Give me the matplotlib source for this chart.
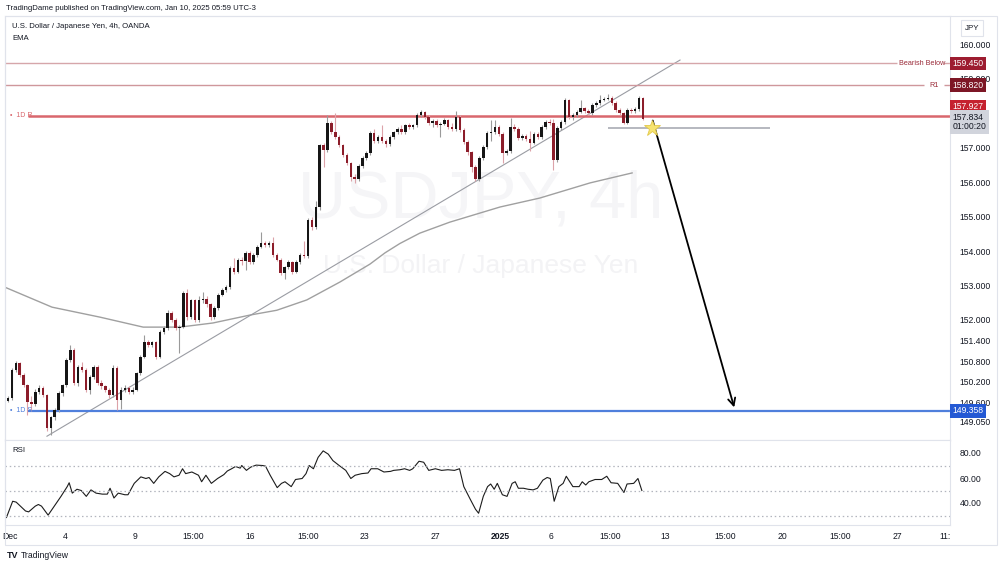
import matplotlib
matplotlib.use("Agg")
from matplotlib import pyplot
from matplotlib.patches import Rectangle
import numpy

pyplot.rcParams['font.family'] = ['Liberation Sans', 'DejaVu Sans']

# USD/JPY 4h candles (open of each bar = previous close)
first_open = 149.65
closes = [149.72, 150.54, 150.74, 150.40, 150.10, 149.61, 149.55, 149.90, 150.02, 149.81,
          148.85, 149.17, 149.38, 149.87, 150.10, 150.83, 151.12, 150.16, 150.63, 150.54,
          149.96, 150.33, 150.63, 150.16, 150.07, 149.96, 149.81, 150.60, 149.67, 149.96,
          150.02, 149.90, 149.97, 150.45, 150.92, 151.35, 151.27, 151.35, 150.92, 151.65,
          151.76, 152.20, 152.00, 151.76, 151.80, 152.78, 152.08, 152.57, 151.99, 152.57,
          152.62, 152.45, 152.08, 152.34, 152.72, 152.87, 152.95, 153.51, 153.39, 153.74,
          153.70, 153.94, 153.68, 153.88, 154.12, 154.23, 154.17, 154.23, 153.88, 153.75,
          153.36, 153.53, 153.68, 153.39, 153.68, 153.88, 153.86, 154.90, 154.70, 155.28,
          157.08, 156.94, 157.72, 157.46, 157.31, 157.08, 156.79, 156.56, 156.15, 156.10,
          156.47, 156.70, 156.85, 157.43, 157.20, 157.30, 157.20, 157.10, 157.30, 157.45,
          157.55, 157.45, 157.65, 157.60, 157.65, 157.95, 158.05, 157.90, 157.72, 157.78,
          157.65, 157.70, 157.80, 157.60, 157.55, 157.90, 157.52, 157.17, 156.88, 156.44,
          156.10, 156.70, 157.02, 157.43, 157.45, 157.60, 157.40, 156.85, 156.90, 157.60,
          157.55, 157.28, 157.35, 157.25, 157.15, 157.40, 157.30, 157.60, 157.75, 157.72,
          156.65, 157.58, 157.75, 158.39, 157.90, 157.95, 158.05, 158.15, 158.08, 158.00,
          158.24, 158.30, 158.39, 158.42, 158.45, 158.30, 158.10, 158.00, 157.72, 158.10,
          158.07, 158.12, 158.45, 157.834]
highs = [149.78, 150.60, 150.80, 150.78, 150.45, 150.15, 149.78, 149.98, 150.12, 150.08,
         149.85, 149.22, 149.45, 149.92, 150.15, 150.90, 151.27, 151.18, 150.70, 150.78,
         150.60, 150.40, 150.70, 150.68, 150.25, 150.12, 150.02, 150.68, 150.65, 150.05,
         150.10, 150.08, 150.05, 150.50, 150.98, 151.55, 151.42, 151.40, 151.40, 151.70,
         151.82, 152.30, 152.25, 152.05, 151.85, 152.85, 152.90, 152.62, 152.60, 152.70,
         152.80, 152.68, 152.50, 152.40, 152.78, 152.93, 153.02, 153.58, 153.80, 153.80,
         153.82, 154.00, 154.00, 153.93, 154.18, 154.55, 154.30, 154.28, 154.40, 153.95,
         153.80, 153.58, 153.73, 153.72, 153.73, 153.94, 154.30, 154.95, 154.98, 155.45,
         157.12, 157.15, 157.95, 157.78, 158.00, 157.38, 157.12, 156.85, 156.60, 156.25,
         156.52, 156.76, 156.90, 157.48, 157.55, 157.36, 157.65, 157.25, 157.36, 157.50,
         157.60, 157.65, 157.70, 157.72, 157.70, 158.00, 158.10, 158.08, 157.95, 157.85,
         157.85, 157.75, 157.88, 157.85, 157.72, 158.08, 157.95, 157.58, 157.22, 156.92,
         156.50, 156.75, 157.08, 157.48, 157.80, 157.80, 157.65, 157.45, 156.98, 157.87,
         157.68, 157.60, 157.40, 157.40, 157.50, 157.45, 157.45, 157.65, 157.80, 157.85,
         157.85, 157.62, 157.80, 158.45, 158.42, 158.00, 158.10, 158.39, 158.20, 158.12,
         158.30, 158.35, 158.53, 158.48, 158.55, 158.50, 158.35, 158.15, 158.05, 158.15,
         158.15, 158.18, 158.50, 158.48]
lows = [149.60, 149.68, 150.50, 150.35, 150.05, 149.25, 149.35, 149.50, 149.85, 149.75,
        148.78, 148.65, 149.10, 149.33, 149.80, 150.05, 150.78, 150.10, 150.08, 150.48,
        149.90, 149.85, 150.28, 150.10, 150.00, 149.90, 149.72, 149.75, 149.38, 149.40,
        149.90, 149.85, 149.85, 149.92, 150.40, 150.88, 151.20, 151.22, 150.85, 150.88,
        151.60, 151.72, 151.95, 151.70, 151.03, 151.75, 152.00, 152.02, 151.93, 151.95,
        152.50, 152.38, 152.00, 152.02, 152.30, 152.68, 152.82, 152.90, 153.33, 153.35,
        153.60, 153.45, 153.62, 153.62, 153.84, 154.08, 154.12, 154.12, 153.82, 153.70,
        153.30, 153.20, 153.48, 153.33, 153.35, 153.63, 153.80, 153.80, 154.60, 154.65,
        155.20, 156.44, 156.88, 157.40, 157.25, 157.02, 156.72, 156.50, 156.05, 155.98,
        156.05, 156.42, 156.65, 156.80, 157.15, 157.15, 157.15, 157.02, 157.05, 157.25,
        157.40, 157.40, 157.40, 157.55, 157.55, 157.60, 157.90, 157.85, 157.65, 157.60,
        157.60, 157.30, 157.65, 157.55, 157.50, 157.50, 157.45, 157.10, 156.80, 156.30,
        156.03, 156.03, 156.65, 156.98, 157.20, 157.40, 157.35, 156.56, 156.80, 156.85,
        157.50, 157.22, 157.22, 157.20, 156.90, 157.10, 157.25, 157.25, 157.55, 157.65,
        156.35, 156.60, 157.52, 157.70, 157.85, 157.80, 157.90, 158.00, 158.00, 157.95,
        157.95, 158.20, 158.25, 158.35, 158.38, 158.25, 158.05, 157.95, 157.68, 157.68,
        158.00, 158.02, 158.08, 157.80]

# EMA curve (bar index, price)
ema_x = [-0.8, 11.3, 23.6, 34.7, 44.1, 52.6, 62.1, 69.0, 76.7, 85.2, 92.9, 96.8, 100.6,
         105.7, 113.4, 126.3, 136.5, 149.4, 160.2]
ema_vals = [152.95, 152.37, 152.08, 151.79, 151.79, 151.91, 152.14, 152.28, 152.58,
            153.10, 153.62, 153.95, 154.22, 154.52, 154.84, 155.28, 155.54, 155.98, 156.27]

# RSI (bar index, value)
rsi_x = [-0.4, 1.2, 2.1, 4.5, 5.3, 7.0, 7.8, 8.6, 10.3, 11.9, 13.6, 15.2, 15.7, 16.5,
         17.7, 18.8, 20.1, 21.3, 22.6, 24.2, 25.5, 26.2, 27.2, 28.3, 30.0, 30.8, 32.4,
         34.1, 35.4, 36.2, 37.4, 38.7, 40.3, 41.5, 42.6, 43.9, 44.8, 45.6, 47.2, 48.9,
         49.7, 50.8, 52.2, 53.8, 55.4, 56.3, 57.4, 58.4, 59.6, 60.0, 61.2, 62.3, 63.7,
         65.3, 66.1, 67.3, 69.1, 70.2, 71.1, 72.7, 73.8, 75.5, 76.5, 77.3, 78.4, 79.6,
         80.9, 82.2, 83.4, 85.0, 86.7, 88.0, 89.1, 90.8, 92.4, 93.2, 94.9, 96.5, 98.2,
         99.0, 100.6, 101.8, 103.1, 103.9, 105.5, 106.7, 108.0, 109.7, 111.3, 112.9,
         114.6, 115.9, 117.0, 118.7, 120.0, 120.8, 122.0, 123.1, 123.9, 124.8, 125.6,
         126.9, 128.1, 129.4, 130.2, 131.0, 132.3, 133.5, 134.8, 135.9, 137.3, 138.4,
         139.2, 140.2, 141.4, 142.5, 143.3, 144.2, 145.0, 146.6, 147.4, 148.3, 149.1,
         150.7, 152.4, 153.7, 154.8, 156.5, 158.1, 158.9, 160.6, 161.7, 162.7]
rsi_vals = [28.4, 41.4, 40.7, 33.6, 32.9, 37.5, 38.8, 37.5, 30.3, 37.5, 45.3, 53.1, 56.2,
            47.9, 51.0, 50.0, 45.3, 50.5, 47.9, 47.1, 47.1, 51.8, 44.0, 47.9, 46.6, 46.6,
            55.7, 60.9, 59.6, 60.4, 55.7, 60.9, 65.3, 63.5, 60.9, 62.2, 67.4, 63.5, 64.8,
            62.2, 57.0, 62.2, 55.7, 59.6, 62.7, 65.6, 67.4, 69.2, 67.9, 70.0, 66.1, 68.7,
            70.3, 70.0, 69.5, 62.2, 52.3, 55.7, 57.0, 53.1, 58.8, 59.6, 63.5, 70.0, 67.4,
            76.5, 81.7, 79.1, 73.9, 70.0, 66.1, 59.6, 62.2, 63.5, 64.0, 67.4, 67.4, 64.8,
            65.3, 66.1, 66.6, 67.4, 66.1, 67.4, 73.4, 72.6, 66.1, 67.4, 66.1, 66.6, 66.1,
            67.4, 53.1, 42.7, 35.0, 31.8, 45.3, 53.1, 55.2, 51.0, 55.7, 46.6, 45.3, 55.7,
            57.0, 51.8, 51.8, 51.0, 50.5, 51.8, 58.3, 60.4, 59.6, 41.4, 53.1, 55.7, 61.4,
            57.0, 53.1, 53.1, 57.0, 54.4, 57.0, 58.8, 58.8, 61.4, 56.2, 55.7, 48.4, 55.2,
            55.7, 59.6, 50.0]

price_ticks = [160, 159, 157, 156, 155, 154, 153, 152, 151.4, 150.8, 150.2, 149.6, 149.05]
time_pos = [0.5, 14.6, 32.6, 47.5, 62.1, 77.0, 91.6, 109.6, 126.3, 139.4, 154.5, 168.6,
            184.0, 198.7, 213.6, 228.2, 240.5]
time_labels = ['Dec', '4', '9', '15:00', '16', '15:00', '23', '27', '2025', '6', '15:00',
               '13', '15:00', '20', '15:00', '27', '11:']

bearish_below = 159.450
r1 = 158.820
d1_r = 157.927
d1_s = 149.358
last_price = 157.834
stop_level = 157.58
trend_x = [10.0, 172.5]
trend_y = [148.62, 159.55]
arrow_from = (165.3, 157.87)
arrow_to = (186.6, 149.38)

BULL = '#161616'
BEAR = '#8c1d2a'
GRID = '#e0e3eb'
TXT = '#131722'

fig = pyplot.figure(figsize=(10, 5.67), dpi=100)
H = 567.0


def fy(py):
    return 1 - py / H


ax = fig.add_axes([0.005, fy(440), 0.945, (440 - 16) / H])
ax_rsi = fig.add_axes([0.005, fy(525), 0.945, 85 / H], sharex=ax)

opens = [first_open] + closes[:-1]
x = numpy.arange(len(closes))
up = [c >= o for o, c in zip(opens, closes)]
body_col = [BULL if u else BEAR for u in up]
wick_col = ['#9a9a9a' if u else '#dca3a9' for u in up]
bottoms = [min(o, c) for o, c in zip(opens, closes)]
heights = [max(abs(c - o), 0.03) for o, c in zip(opens, closes)]

# watermark
ax.text(0.503, 0.565, 'USDJPY, 4h', transform=ax.transAxes, ha='center',
        va='center', fontsize=48, color='#f5f5f7', zorder=0)
ax.text(0.503, 0.41, 'U.S. Dollar / Japanese Yen', transform=ax.transAxes, ha='center',
        va='center', fontsize=19, color='#f3f3f5', zorder=0)

ax.vlines(x, lows, highs, colors=wick_col, linewidth=0.8, zorder=2)
ax.bar(x, heights, bottom=bottoms, width=0.65, color=body_col, linewidth=0, zorder=3)

ax.plot(ema_x, ema_vals, color='#a0a0a0', linewidth=1.0, zorder=1)
ax.plot(trend_x, trend_y, color='#9a9ca3', linewidth=0.8, zorder=1)

# levels
ax.hlines(bearish_below, -1, 228.3, color='#d6a6aa', linewidth=1.0, zorder=1)
ax.hlines(bearish_below, 240.3, 242, color='#d6a6aa', linewidth=1.0, zorder=1)
ax.text(228.8, bearish_below, 'Bearish Below', fontsize=5.2, color='#9b2c3a', va='center')
ax.hlines(r1, -1, 235.2, color='#cf979c', linewidth=1.0, zorder=1)
ax.hlines(r1, 240.3, 242, color='#cf979c', linewidth=1.0, zorder=1)
ax.text(237.7, r1, 'R1', fontsize=5.2, color='#9b2c3a', va='center', ha='center')
ax.hlines(d1_r, 5.1, 242, color='#d9676d', linewidth=1.8, zorder=1)
ax.text(0.4, d1_r, '•  1D R', fontsize=5, color='#d9676d', va='center')
ax.hlines(d1_s, 5.1, 242, color='#4f7fdc', linewidth=1.6, zorder=1)
ax.text(0.4, d1_s, '•  1D S', fontsize=5, color='#4f7fdc', va='center')
ax.hlines(stop_level, 154.0, 195.6, color='#b5b8bf', linewidth=1.4, zorder=1)

ax.annotate('', xy=arrow_to, xytext=arrow_from,
            arrowprops=dict(arrowstyle='->', color='black', lw=1.3, mutation_scale=13),
            zorder=5)
ax.plot(arrow_from[0], stop_level, marker='*', markersize=12, color='#f6e370',
        markeredgecolor='#e2c84a', markeredgewidth=0.6, zorder=6)

ax.set_xlim(-0.77, 241.8)
ax.set_ylim(148.51, 160.83)
ax.yaxis.tick_right()
ax.set_yticks(price_ticks)
ax.set_yticklabels([f'{p:.3f}' for p in price_ticks])
ax.tick_params(axis='y', length=0, pad=7, labelsize=6.2, labelcolor=TXT)
ax.tick_params(axis='x', length=0, labelbottom=False)
for s in ax.spines.values():
    s.set_color(GRID)
    s.set_linewidth(0.8)

# right-axis price boxes
ytr = ax.get_yaxis_transform()
boxes = [(bearish_below, '159.450', '#9d1c30', 'white'),
         (r1, '158.820', '#7d1726', 'white'),
         (158.19, '157.927', '#c5212f', 'white'),
         (d1_s, '149.358', '#2459d4', 'white')]
for yv, lab, fc, tc in boxes:
    ax.text(1.0025, yv, lab, transform=ytr, ha='left', va='center', fontsize=6.2,
            color=tc, clip_on=False, zorder=10,
            bbox=dict(boxstyle='square,pad=0.28', fc=fc, ec='none'))
ax.text(1.0025, 157.75, '157.834\n01:00:20', transform=ytr, ha='left', va='center',
        fontsize=6.2, color=TXT, clip_on=False, zorder=10, linespacing=1.05,
        bbox=dict(boxstyle='square,pad=0.28', fc='#d1d4dc', ec='none'))

# RSI pane
ax_rsi.plot(rsi_x, rsi_vals, color='#1c1c1c', linewidth=0.8)
for lvl in (70, 50, 30):
    ax_rsi.axhline(lvl, color='#b2b5be', linewidth=0.9, linestyle=(0, (1.2, 2.2)))
ax_rsi.set_ylim(22.4, 90.4)
ax_rsi.yaxis.tick_right()
ax_rsi.set_yticks([80, 60, 40])
ax_rsi.set_yticklabels(['80.00', '60.00', '40.00'])
ax_rsi.tick_params(axis='y', length=0, pad=7, labelsize=6.2, labelcolor=TXT)
ax_rsi.set_xticks(time_pos)
ax_rsi.set_xticklabels(time_labels)
ax_rsi.tick_params(axis='x', length=0, pad=5, labelsize=6.2, labelcolor=TXT)
for t in ax_rsi.get_xticklabels():
    if t.get_text() == '2025':
        t.set_fontweight('bold')
for s in ax_rsi.spines.values():
    s.set_color(GRID)
    s.set_linewidth(0.8)

# header / legend texts
fig.text(0.006, fy(9), 'TradingDame published on TradingView.com, Jan 10, 2025 05:59 UTC-3',
         fontsize=5.6, color=TXT, va='center')
fig.text(0.012, fy(27), 'U.S. Dollar / Japanese Yen, 4h, OANDA', fontsize=5.6, color=TXT,
         va='center')
fig.text(0.012, fy(38), 'EMA', fontsize=5.6, color=TXT, va='center')
fig.text(0.012, fy(451), 'RSI', fontsize=5.6, color=TXT, va='center')
fig.text(0.972, fy(28), 'JPY', fontsize=5.8, color=TXT, va='center', ha='center',
         bbox=dict(boxstyle='square,pad=0.5', fc='white', ec=GRID, lw=0.8))
fig.text(0.007, fy(556), 'TV', fontsize=6.5, fontweight='bold', color=TXT, va='center')
fig.text(0.021, fy(556), 'TradingView', fontsize=6.2, color=TXT, va='center')

fig.add_artist(Rectangle((0.005, fy(545)), 0.992, (545 - 16) / H, transform=fig.transFigure,
                         fill=False, ec=GRID, lw=0.8))

fig.savefig('out.png', dpi=100)
